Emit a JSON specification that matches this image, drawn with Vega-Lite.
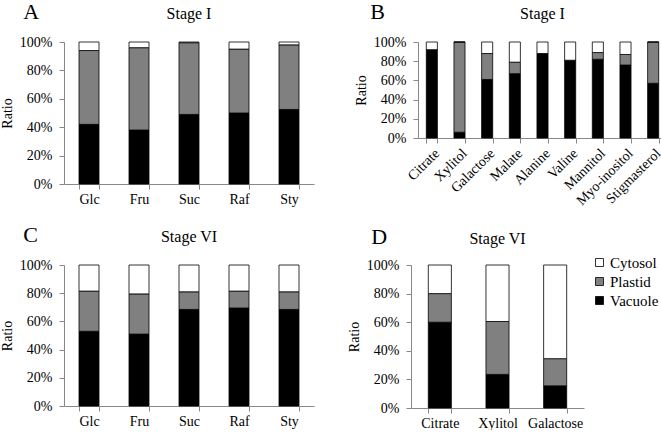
{
  "$schema": "https://vega.github.io/schema/vega-lite/v6.json",
  "padding": {"left": 0, "top": 1, "right": 0, "bottom": 0},
  "background": "white",
  "config": {
    "font": "Liberation Serif",
    "view": {"stroke": null},
    "style": {"guide-label": {"font": "Times New Roman"}, "guide-title": {"font": "Times New Roman"}, "group-title": {"font": "Liberation Serif"}},
    "title": {"font": "Liberation Serif", "fontWeight": "normal", "color": "black"},
    "axis": {"labelFont": "Liberation Serif", "labelFontSize": 14, "labelColor": "black", "titleFont": "Times New Roman", "titleFontSize": 14, "titleFontWeight": "normal", "titleColor": "black", "domainColor": "#888888", "tickColor": "#888888", "grid": false, "tickSize": 5, "labelPadding": 3},
    "axisX": {"title": null, "labelAngle": 0, "tickBand": "extent"},
    "axisY": {"titlePadding": 5, "labelPadding": 7, "labelFont": "Times New Roman", "titleFont": "Times New Roman"},
    "legend": {"labelFont": "Times New Roman", "labelFontSize": 15, "labelColor": "black", "symbolType": "square", "symbolStrokeColor": "black", "symbolStrokeWidth": 0.8, "symbolSize": 64, "rowPadding": 3, "labelOffset": 3}
  },
  "datasets": {
    "A": [
      {"compound": "Glc", "compartment": "Vacuole", "ratio": 0.42},
      {"compound": "Glc", "compartment": "Plastid", "ratio": 0.52},
      {"compound": "Glc", "compartment": "Cytosol", "ratio": 0.06},
      {"compound": "Fru", "compartment": "Vacuole", "ratio": 0.38},
      {"compound": "Fru", "compartment": "Plastid", "ratio": 0.58},
      {"compound": "Fru", "compartment": "Cytosol", "ratio": 0.04},
      {"compound": "Suc", "compartment": "Vacuole", "ratio": 0.49},
      {"compound": "Suc", "compartment": "Plastid", "ratio": 0.505},
      {"compound": "Suc", "compartment": "Cytosol", "ratio": 0.005},
      {"compound": "Raf", "compartment": "Vacuole", "ratio": 0.50},
      {"compound": "Raf", "compartment": "Plastid", "ratio": 0.45},
      {"compound": "Raf", "compartment": "Cytosol", "ratio": 0.05},
      {"compound": "Sty", "compartment": "Vacuole", "ratio": 0.525},
      {"compound": "Sty", "compartment": "Plastid", "ratio": 0.455},
      {"compound": "Sty", "compartment": "Cytosol", "ratio": 0.02}
    ],
    "B": [
      {"compound": "Citrate", "compartment": "Vacuole", "ratio": 0.92},
      {"compound": "Citrate", "compartment": "Plastid", "ratio": 0.0},
      {"compound": "Citrate", "compartment": "Cytosol", "ratio": 0.08},
      {"compound": "Xylitol", "compartment": "Vacuole", "ratio": 0.06},
      {"compound": "Xylitol", "compartment": "Plastid", "ratio": 0.94},
      {"compound": "Xylitol", "compartment": "Cytosol", "ratio": 0.0},
      {"compound": "Galactose", "compartment": "Vacuole", "ratio": 0.61},
      {"compound": "Galactose", "compartment": "Plastid", "ratio": 0.27},
      {"compound": "Galactose", "compartment": "Cytosol", "ratio": 0.12},
      {"compound": "Malate", "compartment": "Vacuole", "ratio": 0.67},
      {"compound": "Malate", "compartment": "Plastid", "ratio": 0.12},
      {"compound": "Malate", "compartment": "Cytosol", "ratio": 0.21},
      {"compound": "Alanine", "compartment": "Vacuole", "ratio": 0.88},
      {"compound": "Alanine", "compartment": "Plastid", "ratio": 0.0},
      {"compound": "Alanine", "compartment": "Cytosol", "ratio": 0.12},
      {"compound": "Valine", "compartment": "Vacuole", "ratio": 0.81},
      {"compound": "Valine", "compartment": "Plastid", "ratio": 0.0},
      {"compound": "Valine", "compartment": "Cytosol", "ratio": 0.19},
      {"compound": "Mannitol", "compartment": "Vacuole", "ratio": 0.82},
      {"compound": "Mannitol", "compartment": "Plastid", "ratio": 0.07},
      {"compound": "Mannitol", "compartment": "Cytosol", "ratio": 0.11},
      {"compound": "Myo-inositol", "compartment": "Vacuole", "ratio": 0.76},
      {"compound": "Myo-inositol", "compartment": "Plastid", "ratio": 0.11},
      {"compound": "Myo-inositol", "compartment": "Cytosol", "ratio": 0.13},
      {"compound": "Stigmasterol", "compartment": "Vacuole", "ratio": 0.57},
      {"compound": "Stigmasterol", "compartment": "Plastid", "ratio": 0.43},
      {"compound": "Stigmasterol", "compartment": "Cytosol", "ratio": 0.0}
    ],
    "C": [
      {"compound": "Glc", "compartment": "Vacuole", "ratio": 0.53},
      {"compound": "Glc", "compartment": "Plastid", "ratio": 0.285},
      {"compound": "Glc", "compartment": "Cytosol", "ratio": 0.185},
      {"compound": "Fru", "compartment": "Vacuole", "ratio": 0.51},
      {"compound": "Fru", "compartment": "Plastid", "ratio": 0.285},
      {"compound": "Fru", "compartment": "Cytosol", "ratio": 0.205},
      {"compound": "Suc", "compartment": "Vacuole", "ratio": 0.685},
      {"compound": "Suc", "compartment": "Plastid", "ratio": 0.125},
      {"compound": "Suc", "compartment": "Cytosol", "ratio": 0.19},
      {"compound": "Raf", "compartment": "Vacuole", "ratio": 0.695},
      {"compound": "Raf", "compartment": "Plastid", "ratio": 0.12},
      {"compound": "Raf", "compartment": "Cytosol", "ratio": 0.185},
      {"compound": "Sty", "compartment": "Vacuole", "ratio": 0.685},
      {"compound": "Sty", "compartment": "Plastid", "ratio": 0.125},
      {"compound": "Sty", "compartment": "Cytosol", "ratio": 0.19}
    ],
    "D": [
      {"compound": "Citrate", "compartment": "Vacuole", "ratio": 0.60},
      {"compound": "Citrate", "compartment": "Plastid", "ratio": 0.20},
      {"compound": "Citrate", "compartment": "Cytosol", "ratio": 0.20},
      {"compound": "Xylitol", "compartment": "Vacuole", "ratio": 0.235},
      {"compound": "Xylitol", "compartment": "Plastid", "ratio": 0.37},
      {"compound": "Xylitol", "compartment": "Cytosol", "ratio": 0.395},
      {"compound": "Galactose", "compartment": "Vacuole", "ratio": 0.155},
      {"compound": "Galactose", "compartment": "Plastid", "ratio": 0.19},
      {"compound": "Galactose", "compartment": "Cytosol", "ratio": 0.655}
    ]
  },
  "resolve": {"scale": {"color": "independent"}, "legend": {"color": "independent"}},
  "spacing": 16,
  "vconcat": [
    {
      "spacing": 40,
      "resolve": {"scale": {"color": "independent"}, "legend": {"color": "independent"}},
      "hconcat": [
        {
          "title": {"text": "A", "anchor": "start", "fontSize": 22, "offset": -18, "dx": 23},
          "resolve": {"scale": {"color": "independent"}, "legend": {"color": "independent"}},
          "vconcat": [
            {
              "data": {"name": "A"},
              "title": {"text": "Stage I", "fontSize": 16, "anchor": "middle", "offset": 13},
              "width": 250, "height": 142,
              "mark": {"type": "bar", "stroke": "black", "strokeWidth": 0.8},
              "encoding": {
                "x": {"field": "compound", "type": "nominal", "sort": null, "scale": {"paddingInner": 0.6, "paddingOuter": 0.3}},
                "y": {"field": "ratio", "type": "quantitative", "stack": "normalize", "scale": {"domain": [0, 1]}, "axis": {"title": "Ratio", "format": "%", "values": [0, 0.2, 0.4, 0.6, 0.8, 1]}},
                "color": {"field": "compartment", "type": "nominal", "scale": {"domain": ["Cytosol", "Plastid", "Vacuole"], "range": ["#ffffff", "#808080", "#000000"]}, "legend": null},
                "order": {"field": "compartment", "type": "nominal", "sort": "descending"}
              }
            }
          ]
        },
        {
          "title": {"text": "B", "anchor": "start", "fontSize": 22, "offset": -18, "dx": 16},
          "resolve": {"scale": {"color": "independent"}, "legend": {"color": "independent"}},
          "vconcat": [
            {
              "data": {"name": "B"},
              "title": {"text": "Stage I", "fontSize": 16, "anchor": "middle", "offset": 13},
              "width": 249, "height": 96,
              "mark": {"type": "bar", "stroke": "black", "strokeWidth": 0.8},
              "encoding": {
                "x": {"field": "compound", "type": "nominal", "sort": null, "scale": {"paddingInner": 0.6, "paddingOuter": 0.3}, "axis": {"labelAngle": -45, "labelFontSize": 14}},
                "y": {"field": "ratio", "type": "quantitative", "stack": "normalize", "scale": {"domain": [0, 1]}, "axis": {"title": "Ratio", "format": "%", "values": [0, 0.2, 0.4, 0.6, 0.8, 1]}},
                "color": {"field": "compartment", "type": "nominal", "scale": {"domain": ["Cytosol", "Plastid", "Vacuole"], "range": ["#ffffff", "#808080", "#000000"]}, "legend": null},
                "order": {"field": "compartment", "type": "nominal", "sort": "descending"}
              }
            }
          ]
        }
      ]
    },
    {
      "spacing": 33,
      "resolve": {"scale": {"color": "independent"}, "legend": {"color": "independent"}},
      "hconcat": [
        {
          "title": {"text": "C", "anchor": "start", "fontSize": 22, "offset": -18, "dx": 23},
          "resolve": {"scale": {"color": "independent"}, "legend": {"color": "independent"}},
          "vconcat": [
            {
              "data": {"name": "C"},
              "title": {"text": "Stage VI", "fontSize": 16, "anchor": "middle", "offset": 13},
              "width": 250, "height": 141,
              "mark": {"type": "bar", "stroke": "black", "strokeWidth": 0.8},
              "encoding": {
                "x": {"field": "compound", "type": "nominal", "sort": null, "scale": {"paddingInner": 0.6, "paddingOuter": 0.3}},
                "y": {"field": "ratio", "type": "quantitative", "stack": "normalize", "scale": {"domain": [0, 1]}, "axis": {"title": "Ratio", "format": "%", "values": [0, 0.2, 0.4, 0.6, 0.8, 1]}},
                "color": {"field": "compartment", "type": "nominal", "scale": {"domain": ["Cytosol", "Plastid", "Vacuole"], "range": ["#ffffff", "#808080", "#000000"]}, "legend": null},
                "order": {"field": "compartment", "type": "nominal", "sort": "descending"}
              }
            }
          ]
        },
        {
          "title": {"text": "D", "anchor": "start", "fontSize": 22, "offset": -18, "dx": 24},
          "resolve": {"scale": {"color": "independent"}, "legend": {"color": "independent"}},
          "vconcat": [
            {
              "data": {"name": "D"},
              "title": {"text": "Stage VI", "fontSize": 16, "anchor": "middle", "offset": 11},
              "width": 173, "height": 143,
              "mark": {"type": "bar", "stroke": "black", "strokeWidth": 0.8},
              "encoding": {
                "x": {"field": "compound", "type": "nominal", "sort": null, "scale": {"paddingInner": 0.6, "paddingOuter": 0.3}},
                "y": {"field": "ratio", "type": "quantitative", "stack": "normalize", "scale": {"domain": [0, 1]}, "axis": {"title": "Ratio", "format": "%", "values": [0, 0.2, 0.4, 0.6, 0.8, 1]}},
                "color": {"field": "compartment", "type": "nominal", "scale": {"domain": ["Cytosol", "Plastid", "Vacuole"], "range": ["#ffffff", "#808080", "#000000"]}, "legend": {"title": null, "orient": "right", "offset": 18, "padding": -10}},
                "order": {"field": "compartment", "type": "nominal", "sort": "descending"}
              }
            }
          ]
        }
      ]
    }
  ]
}
